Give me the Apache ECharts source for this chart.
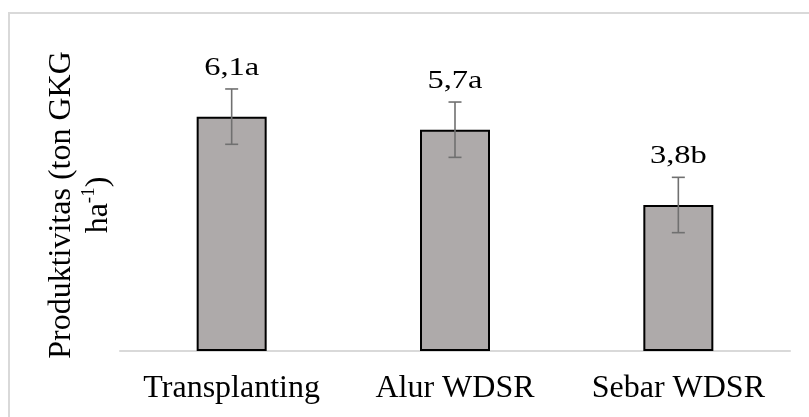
<!DOCTYPE html>
<html>
<head>
<meta charset="utf-8">
<script src="https://cdn.jsdelivr.net/npm/echarts@6/dist/echarts.min.js"></script>
<style>
html,body{margin:0;padding:0;background:#fff;}
#chart{width:809px;height:417px;}
</style>
</head>
<body>
<div id="chart"></div>
<script>
const categories = ['Transplanting', 'Alur WDSR', 'Sebar WDSR'];
const values = [6.1, 5.76, 3.8];
const errors = [0.72, 0.72, 0.72];
const labels = ['6,1a', '5,7a', '3,8b'];
const yAxisName = 'Produktivitas (ton GKG\nha{sup|-1})';

const FONT = '"Liberation Serif", "Times New Roman", serif';

const errData = categories.map((c, i) => [i, values[i], values[i] - errors[i], values[i] + errors[i]]);

const chart = echarts.init(document.getElementById('chart'));
chart.setOption({
  animation: false,
  backgroundColor: '#fff',
  graphic: [{
    type: 'rect',
    silent: true,
    shape: { x: 9, y: 13, width: 900, height: 500 },
    style: { fill: 'none', stroke: '#d9d9d9', lineWidth: 2 }
  }],
  grid: { left: 120, right: 19, top: 59, bottom: 66 },
  xAxis: {
    type: 'category',
    data: categories,
    axisLine: { lineStyle: { color: '#d9d9d9', width: 2 } },
    axisTick: { show: false },
    axisLabel: { interval: 0, hideOverlap: false, fontFamily: FONT, fontSize: 32, color: '#000', margin: 22 }
  },
  yAxis: {
    type: 'value',
    min: 0,
    max: 7.6,
    axisLine: { show: false },
    axisTick: { show: false },
    axisLabel: { show: false },
    splitLine: { show: false },
    name: yAxisName,
    nameLocation: 'middle',
    nameGap: 3,
    nameTextStyle: {
      fontFamily: FONT, fontSize: 32, color: '#000', lineHeight: 37, align: 'center',
      rich: { sup: { fontFamily: FONT, fontSize: 19, color: '#000', verticalAlign: 'top', lineHeight: 28 } }
    }
  },
  series: [{
    type: 'bar',
    data: values,
    barWidth: 70,
    itemStyle: { color: '#aeaaaa', borderColor: '#000', borderWidth: 2 }
  }, {
    type: 'custom',
    data: errData,
    z: 5,
    renderItem: function (params, api) {
      const i = api.value(0);
      const lo = api.coord([i, api.value(2)]);
      const hi = api.coord([i, api.value(3)]);
      const x = hi[0];
      const cap = 6.5;
      const ls = { stroke: '#707070', lineWidth: 1.6 };
      return {
        type: 'group',
        children: [
          { type: 'line', shape: { x1: x, y1: hi[1], x2: x, y2: lo[1] }, style: ls },
          { type: 'line', shape: { x1: x - cap, y1: hi[1], x2: x + cap, y2: hi[1] }, style: ls },
          { type: 'line', shape: { x1: x - cap, y1: lo[1], x2: x + cap, y2: lo[1] }, style: ls },
          {
            type: 'text',
            x: x, y: hi[1] - 21,
            scaleX: 1.3,
            style: {
              x: 0, y: 0,
              text: labels[params.dataIndex],
              fontFamily: FONT, fontSize: 25, fill: '#000',
              align: 'center', verticalAlign: 'middle'
            }
          }
        ]
      };
    }
  }]
});
</script>
</body>
</html>
